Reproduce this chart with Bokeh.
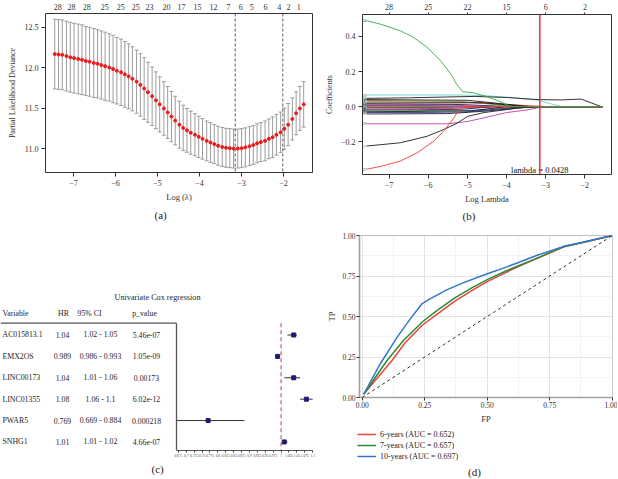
import math
from bokeh.plotting import figure
from bokeh.layouts import row, column
from bokeh.models import (Range1d, LinearAxis, FixedTicker, Whisker, TeeHead,
                          ColumnDataSource, Span, Legend, LegendItem, Title,
                          NumeralTickFormatter, Grid, Slope)
from bokeh.core.properties import value
from bokeh.embed import file_html
from bokeh.resources import INLINE

FONT = "Liberation Serif"
MINUS = "\u2212"

# ---------------- (a) cross-validation curve ----------------
cv_log_lambda = [-7.45, -7.36, -7.27, -7.17, -7.08, -6.99, -6.89, -6.80, -6.71, -6.62,
                 -6.52, -6.43, -6.34, -6.25, -6.15, -6.06, -5.97, -5.87, -5.78, -5.69,
                 -5.60, -5.50, -5.41, -5.32, -5.23, -5.13, -5.04, -4.95, -4.85, -4.76,
                 -4.67, -4.58, -4.48, -4.39, -4.30, -4.21, -4.11, -4.02, -3.93, -3.83,
                 -3.74, -3.65, -3.56, -3.46, -3.37, -3.28, -3.19, -3.09, -3.00, -2.91,
                 -2.81, -2.72, -2.63, -2.54, -2.44, -2.35, -2.26, -2.17, -2.07, -1.98,
                 -1.89, -1.79, -1.70, -1.61, -1.52]
cv_mean = [12.17, 12.165, 12.16, 12.145, 12.13, 12.12, 12.11, 12.10, 12.085, 12.075,
           12.06, 12.05, 12.035, 12.02, 12.005, 11.985, 11.965, 11.945, 11.92, 11.895,
           11.865, 11.83, 11.79, 11.745, 11.70, 11.65, 11.60, 11.55, 11.50, 11.45,
           11.40, 11.35, 11.30, 11.26, 11.23, 11.20, 11.175, 11.15, 11.125, 11.10,
           11.08, 11.06, 11.04, 11.025, 11.015, 11.01, 11.005, 11.005, 11.01, 11.02,
           11.035, 11.05, 11.07, 11.085, 11.10, 11.125, 11.145, 11.175, 11.205, 11.25,
           11.30, 11.37, 11.44, 11.50, 11.55]
cv_se = [0.43, 0.43, 0.43, 0.43, 0.43, 0.43, 0.43, 0.43, 0.425, 0.425,
         0.425, 0.42, 0.42, 0.42, 0.415, 0.415, 0.41, 0.41, 0.405, 0.40,
         0.395, 0.39, 0.385, 0.38, 0.37, 0.36, 0.35, 0.34, 0.33, 0.32,
         0.31, 0.30, 0.29, 0.28, 0.27, 0.265, 0.26, 0.255, 0.25, 0.245,
         0.245, 0.24, 0.24, 0.24, 0.24, 0.24, 0.24, 0.24, 0.24, 0.24,
         0.24, 0.24, 0.24, 0.24, 0.245, 0.245, 0.25, 0.25, 0.25, 0.255,
         0.26, 0.26, 0.265, 0.27, 0.28]
cv_top_pos = [-7.38, -7.05, -6.69, -6.26, -5.88, -5.52, -5.19, -4.79, -4.43, -4.05,
              -3.67, -3.31, -3.02, -2.76, -2.43, -2.10, -1.88, -1.64]
cv_top_nz = ["28", "28", "28", "25", "25", "25", "23", "20", "17", "15",
             "12", "7", "6", "5", "6", "4", "2", "1"]
lambda_min = 0.0428
lambda_1se = 0.133

# ---------------- (b) coefficient paths ----------------
coef_top_pos = [-7, -6, -5, -4, -3, -2]
coef_top_nz = ["28", "25", "22", "15", "6", "2"]
path_first = -7.58
path_last = -1.55

path_green_x = [-7.58, -7.22, -6.71, -6.37, -6.03, -5.69, -5.43, -5.26, -5.12, -4.84, -4.50, -4.16, -3.90, -1.55]
path_green_y = [0.490, 0.470, 0.432, 0.394, 0.338, 0.263, 0.188, 0.122, 0.085, 0.079, 0.056, 0.028, 0.0, 0.0]
path_teal_x = [-7.58, -5.20, -4.50, -3.80, -3.20, -2.60, -1.55]
path_teal_y = [0.066, 0.066, 0.062, 0.050, 0.036, 0.0, 0.0]
path_blacktop_x = [-7.58, -6.50, -5.50, -4.80, -4.00, -3.20, -2.60, -2.10, -1.58, -1.55]
path_blacktop_y = [0.047, 0.050, 0.055, 0.058, 0.052, 0.040, 0.038, 0.043, 0.0, 0.0]
path_magenta_x = [-7.58, -5.52, -5.00, -4.50, -4.00, -3.48, -3.14, -2.95, -1.55]
path_magenta_y = [-0.098, -0.098, -0.085, -0.060, -0.034, -0.019, -0.004, 0.0, 0.0]
path_blacklow_x = [-7.58, -6.71, -6.03, -5.61, -5.26, -5.00, -4.58, -3.73, -3.20, -1.55]
path_blacklow_y = [-0.225, -0.206, -0.169, -0.131, -0.094, -0.056, -0.034, -0.009, 0.0, 0.0]
path_red_x = [-7.58, -7.20, -6.71, -6.28, -5.86, -5.61, -5.35, -5.22, -5.10, -1.55]
path_red_y = [-0.357, -0.340, -0.310, -0.263, -0.197, -0.141, -0.065, -0.019, 0.0, 0.0]
path_blue_x = [-7.58, -6.00, -5.00, -4.50, -4.00, -3.60, -1.55]
path_blue_y = [-0.033, -0.033, -0.030, -0.020, -0.010, 0.0, 0.0]
path_blackmid_x = [-7.58, -5.50, -4.50, -3.80, -3.30, -1.55]
path_blackmid_y = [-0.042, -0.040, -0.025, -0.010, 0.0, 0.0]

bundle_start = [0.035, 0.028, 0.020, 0.015, 0.010, 0.005, 0.002, -0.004, -0.008, -0.012, -0.015, -0.020, -0.025, -0.030, 0.040, -0.018]
bundle_mid = [0.030, 0.024, 0.022, 0.012, 0.008, 0.004, 0.002, -0.003, -0.007, -0.010, -0.012, -0.016, -0.020, -0.024, 0.036, -0.015]
bundle_x_mid = [-5.2, -5.0, -4.6, -5.2, -5.4, -6.0, -6.5, -5.8, -5.3, -5.6, -5.5, -5.2, -4.8, -4.9, -5.0, -6.2]
bundle_x_zero = [-3.7, -3.0, -3.5, -3.9, -4.3, -5.0, -5.6, -4.9, -4.4, -4.7, -4.6, -4.3, -3.5, -4.0, -3.4, -5.3]
bundle_color_idx = [2, 1, 0, 0, 5, 3, 1, 2, 0, 4, 1, 3, 2, 0, 0, 5]
path_var_ids = ["4", "7", "21", "16", "15", "29", "11", "9",
                "2", "8", "13", "5", "18", "3", "25", "12", "6", "22", "10", "14", "19", "1", "27", "24"]

# ---------------- (c) univariate Cox ----------------
cox_vars = ["AC015813.1", "EMX2OS", "LINC00173", "LINC01355", "PWAR5", "SNHG1"]
cox_hr = [1.04, 0.989, 1.04, 1.08, 0.769, 1.01]
cox_lo = [1.02, 0.986, 1.01, 1.06, 0.669, 1.01]
cox_hi = [1.05, 0.993, 1.06, 1.10, 0.884, 1.02]
cox_hr_txt = ["1.04", "0.989", "1.04", "1.08", "0.769", "1.01"]
cox_ci_txt = ["1.02 - 1.05", "0.986 - 0.993", "1.01 - 1.06", "1.06 - 1.1", "0.669 - 0.884", "1.01 - 1.02"]
cox_p_txt = ["5.46e-07", "1.05e-09", "0.00173", "6.02e-12", "0.000218", "4.66e-07"]
forest_ticks = [0.675, 0.7, 0.725, 0.75, 0.775, 0.8, 0.825, 0.85, 0.875, 0.9, 0.925,
                0.95, 0.975, 1.0, 1.025, 1.05, 1.075, 1.1]

# ---------------- (d) ROC ----------------
roc_years = [6, 7, 10]
roc_auc = [0.652, 0.657, 0.697]
roc6_fp = [0.006, 0.12, 0.17, 0.24, 0.30, 0.366, 0.433, 0.50, 0.566, 0.62, 0.686, 0.74, 0.806, 0.886, 1.0]
roc6_tp = [0.02, 0.23, 0.335, 0.446, 0.515, 0.59, 0.655, 0.715, 0.765, 0.805, 0.85, 0.885, 0.93, 0.958, 1.0]
roc7_fp = [0.006, 0.10, 0.166, 0.24, 0.30, 0.366, 0.433, 0.50, 0.566, 0.62, 0.686, 0.74, 0.806, 0.886, 1.0]
roc7_tp = [0.02, 0.23, 0.353, 0.466, 0.538, 0.61, 0.672, 0.728, 0.775, 0.81, 0.851, 0.888, 0.93, 0.958, 1.0]
roc10_fp = [0.006, 0.073, 0.14, 0.193, 0.24, 0.273, 0.34, 0.406, 0.473, 0.54, 0.62, 0.70, 0.806, 0.886, 1.0]
roc10_tp = [0.02, 0.21, 0.373, 0.487, 0.58, 0.61, 0.666, 0.709, 0.748, 0.785, 0.83, 0.878, 0.933, 0.96, 1.0]

# ---------------- helpers ----------------
def signed(t, fmt="{:g}"):
    s = fmt.format(abs(t))
    return MINUS + s if t < 0 else s


def style_axis(ax, label_size="8px", title_size="8.5px", tick_out=4, standoff=3,
               color="#333333", title_standoff=4):
    ax.major_label_text_font = FONT
    ax.major_label_text_font_size = label_size
    ax.major_label_text_color = color
    ax.axis_label_text_font = FONT
    ax.axis_label_text_font_size = title_size
    ax.axis_label_text_font_style = "normal"
    ax.axis_label_text_color = color
    ax.axis_label_standoff = title_standoff
    ax.major_tick_out = tick_out
    ax.major_tick_in = 0
    ax.minor_tick_out = 0
    ax.minor_tick_in = 0
    ax.major_tick_line_color = color
    ax.major_label_standoff = standoff


def sub_title(p, text, offset, standoff):
    p.add_layout(Title(text=text, align="left", offset=offset, standoff=standoff,
                       text_font=FONT, text_font_size="11px", text_font_style="normal",
                       text_color="#222222"), "below")


def make_fig(w, h, xr, yr, left, right, top, bottom, outline="#333333"):
    return figure(width=w, height=h, output_backend="svg", toolbar_location=None,
                  x_range=xr, y_range=yr, x_axis_type=None, y_axis_type=None,
                  min_border_left=left, min_border_right=right,
                  min_border_top=top, min_border_bottom=bottom,
                  outline_line_color=outline, outline_line_width=1, frame_align=False)


C_BLACK = "#1c1c1c"
C_RED = "#f03c32"
C_GREEN = "#3aa945"
C_BLUE = "#26268f"
C_CYAN = "#6fcfcf"
C_MAG = "#c0409f"
PAL = [C_BLACK, C_RED, C_GREEN, C_BLUE, C_CYAN, C_MAG]

# ================= panel (a) =================
pa = make_fig(318, 222, Range1d(-7.67, -1.31), Range1d(10.71, 12.67), 45, 6, 13, 49)
ticks_a = [-7, -6, -5, -4, -3, -2]
xa = LinearAxis(ticker=FixedTicker(ticks=ticks_a), axis_label="Log (\u03bb)", axis_line_color=None)
xa.major_label_overrides = {t: signed(t) for t in ticks_a}
style_axis(xa, title_standoff=3)
pa.add_layout(xa, "below")
ya = LinearAxis(ticker=FixedTicker(ticks=[11.0, 11.5, 12.0, 12.5]),
                formatter=NumeralTickFormatter(format="0.0"),
                axis_label="Partial Likelihood Deviance", axis_line_color=None)
style_axis(ya, title_size="8px", title_standoff=5)
pa.add_layout(ya, "left")
ta = LinearAxis(ticker=FixedTicker(ticks=cv_top_pos), axis_line_color=None,
                major_label_overrides=dict(zip(cv_top_pos, cv_top_nz)))
style_axis(ta, tick_out=0, standoff=4)
ta.major_tick_line_color = None
pa.add_layout(ta, "above")

src_a = ColumnDataSource(dict(x=cv_log_lambda, y=cv_mean,
                              upper=[m + s for m, s in zip(cv_mean, cv_se)],
                              lower=[m - s for m, s in zip(cv_mean, cv_se)]))
ERR = "#9c9c9c"
pa.add_layout(Whisker(source=src_a, base="x", upper="upper", lower="lower",
                      line_color=ERR, line_width=1,
                      upper_head=TeeHead(size=4, line_color=ERR, line_width=1),
                      lower_head=TeeHead(size=4, line_color=ERR, line_width=1)))
pa.scatter("x", "y", source=src_a, size=3.0, color="#f01818", marker="circle")
for lam in (lambda_min, lambda_1se):
    pa.add_layout(Span(location=math.log(lam), dimension="height", line_color="#333333",
                       line_dash="3 2", line_width=0.8))
sub_title(pa, "(a)", 109, 4)

# ================= panel (b) =================
pb = make_fig(299, 222, Range1d(-7.68, -1.32), Range1d(-0.387, 0.525), 44, 6, 14, 47)
xb = LinearAxis(ticker=FixedTicker(ticks=ticks_a), axis_label="Log Lambda", axis_line_color=None)
xb.major_label_overrides = {t: signed(t) for t in ticks_a}
style_axis(xb, title_standoff=3)
pb.add_layout(xb, "below")
ticks_b = [-0.2, 0.0, 0.2, 0.4]
yb = LinearAxis(ticker=FixedTicker(ticks=ticks_b), axis_label="Coefficients", axis_line_color=None)
yb.major_label_overrides = {t: signed(t, "{:.1f}") for t in ticks_b}
style_axis(yb, title_size="8px", title_standoff=4)
pb.add_layout(yb, "left")
tb = LinearAxis(ticker=FixedTicker(ticks=coef_top_pos), axis_line_color=None,
                major_label_overrides=dict(zip(coef_top_pos, coef_top_nz)))
style_axis(tb, tick_out=2, standoff=3)
pb.add_layout(tb, "above")

start_vals = []
for s, m, xm, xz, ci in zip(bundle_start, bundle_mid, bundle_x_mid, bundle_x_zero, bundle_color_idx):
    pb.line([path_first, xm, xz, path_last], [s, m, 0.0, 0.0], line_color=PAL[ci], line_width=0.9)
    start_vals.append(s)
major_paths = [(path_blackmid_x, path_blackmid_y, C_BLACK), (path_blue_x, path_blue_y, C_BLUE),
               (path_teal_x, path_teal_y, C_CYAN), (path_blacktop_x, path_blacktop_y, C_BLACK),
               (path_magenta_x, path_magenta_y, C_MAG), (path_blacklow_x, path_blacklow_y, C_BLACK),
               (path_red_x, path_red_y, C_RED), (path_green_x, path_green_y, C_GREEN)]
for xs, ys, c in major_paths:
    pb.line(xs, ys, line_color=c, line_width=0.9)
    start_vals.append(ys[0])
pb.text(x=[path_first - 0.05] * len(start_vals), y=start_vals, text=path_var_ids[:len(start_vals)],
        text_font=value(FONT), text_font_size="3.5px", text_color="#333333",
        text_align="center", text_baseline="middle")
log_lmin = math.log(lambda_min)
pb.add_layout(Span(location=log_lmin, dimension="height", line_color="#ee2020", line_width=1.4))
pb.text(x=[log_lmin], y=[-0.36], text=[f"lambda = {lambda_min}"], text_font=value(FONT),
        text_font_size="8.5px", text_color="#111111", text_align="center", text_baseline="middle")
sub_title(pb, "(b)", 100, 2)

# ================= panel (c) =================
pc = make_fig(323, 256, Range1d(0, 313), Range1d(5.40, -2.22), 0, 10, 65, 28, outline=None)
hr_lo = min(cox_lo)
px_per_hr = 316.0
pc.extra_x_ranges = {"hr": Range1d(hr_lo - 176 / px_per_hr, hr_lo + 137 / px_per_hr)}
rows = list(range(len(cox_vars)))
TXT = "#1e1e1e"
tfs = "7.8px"
pc.text(x=[157], y=[-1.76], text=["Univariate Cox regression"], text_font=value(FONT),
        text_font_size="8.2px", text_color=TXT, text_align="center", text_baseline="middle")
pc.text(x=[2], y=[-1.02], text=["Variable"], text_font=value(FONT), text_font_size=tfs,
        text_color=TXT, text_align="left", text_baseline="middle")
pc.text(x=[63, 89, 144], y=[-1.02] * 3, text=["HR", "95% CI", "p_value"], text_font=value(FONT),
        text_font_size=tfs, text_color=TXT, text_align="center", text_baseline="middle")
pc.text(x=[2] * len(rows), y=rows, text=cox_vars, text_font=value(FONT), text_font_size=tfs,
        text_color=TXT, text_align="left", text_baseline="middle")
pc.text(x=[62] * len(rows), y=rows, text=cox_hr_txt, text_font=value(FONT), text_font_size=tfs,
        text_color=TXT, text_align="center", text_baseline="middle")
pc.text(x=[100] * len(rows), y=rows, text=cox_ci_txt, text_font=value(FONT), text_font_size=tfs,
        text_color=TXT, text_align="center", text_baseline="middle")
pc.text(x=[146] * len(rows), y=rows, text=cox_p_txt, text_font=value(FONT), text_font_size=tfs,
        text_color=TXT, text_align="center", text_baseline="middle")
pc.segment(x0=[0], x1=[176], y0=[-0.55], y1=[-0.55], line_color="#555555", line_width=1.2)
pc.segment(x0=[hr_lo], x1=[hr_lo], y0=[-0.55], y1=[5.40], line_color="#555555", line_width=1.3,
           x_range_name="hr")
pc.segment(x0=[1.0], x1=[1.0], y0=[-0.55], y1=[5.40], line_color="#e8504f", line_width=1.2,
           line_dash="4 3", x_range_name="hr")
pc.segment(x0=cox_lo, x1=cox_hi, y0=rows, y1=rows, line_color="#333333", line_width=1,
           x_range_name="hr")
pc.scatter(cox_hr, rows, marker="square", size=4, color="#1b1b6b", x_range_name="hr")
xc = LinearAxis(x_range_name="hr", ticker=FixedTicker(ticks=forest_ticks), bounds=(hr_lo, 1.1),
                axis_line_color="#555555", axis_line_width=1)
xc.major_label_overrides = {t: f"{t:g}" for t in forest_ticks}
style_axis(xc, label_size="3.5px", tick_out=2, standoff=1, color="#444444")
pc.add_layout(xc, "below")
sub_title(pc, "(c)", 151, 3)

# ================= panel (d) =================
pdd = make_fig(294, 205, Range1d(-0.0108, 1.001), Range1d(0.0, 1.0), 36, 5, 13, 30,
               outline="#bdbdbd")
roc_ticks = [0.0, 0.25, 0.5, 0.75, 1.0]
roc_minor = [0.125, 0.375, 0.625, 0.875]
xd = LinearAxis(ticker=FixedTicker(ticks=roc_ticks, minor_ticks=roc_minor),
                formatter=NumeralTickFormatter(format="0.00"), axis_label="FP",
                axis_line_color="#a0a0a0", axis_line_width=1.6)
style_axis(xd, label_size="7.5px", title_size="8.5px", tick_out=3, standoff=1, color="#333333",
           title_standoff=3)
pdd.add_layout(xd, "below")
yd = LinearAxis(ticker=FixedTicker(ticks=roc_ticks, minor_ticks=roc_minor),
                formatter=NumeralTickFormatter(format="0.00"), axis_label="TP",
                axis_line_color="#a0a0a0", axis_line_width=1.6)
style_axis(yd, label_size="7.5px", title_size="8.5px", tick_out=3, standoff=1, color="#333333",
           title_standoff=2)
pdd.add_layout(yd, "left")
for dim, ax in ((0, xd), (1, yd)):
    g = Grid(dimension=dim, ticker=ax.ticker, grid_line_color="#dcdcdc", grid_line_width=0.8,
             minor_grid_line_color="#eeeeee", minor_grid_line_width=0.7)
    pdd.add_layout(g, "center")
pdd.add_layout(Slope(gradient=1, y_intercept=0, line_color="#333333", line_dash="3 3", line_width=1))
roc_colors = ["#e8453c", "#2b8a35", "#3377cc"]
roc_curves = [(roc6_fp, roc6_tp), (roc7_fp, roc7_tp), (roc10_fp, roc10_tp)]
for (fp, tp), c in zip(roc_curves, roc_colors):
    pdd.line(fp, tp, line_color=c, line_width=1.5)

# legend + panel letter for (d), drawn in a strip under the ROC plot
pleg = make_fig(294, 51, Range1d(0, 294), Range1d(0, 51), 0, 0, 0, 0, outline=None)
items = []
for c, yr, auc in zip(roc_colors, roc_years, roc_auc):
    # off-screen stand-in renderer so the legend swatch gets this line style
    r = pleg.line(x=[-50, -40], y=[-50, -40], line_color=c, line_width=1.5)
    items.append(LegendItem(label=value(f"{yr}-years (AUC = {auc:.3f})"), renderers=[r]))
leg = Legend(items=items, location=(34, 17), padding=2, margin=0, spacing=1,
             label_height=10, glyph_height=10, glyph_width=19, label_standoff=4,
             label_text_font=FONT, label_text_font_size="8px", label_text_color="#222222",
             border_line_color=None, background_fill_alpha=0)
pleg.add_layout(leg)
pleg.text(x=[151], y=[6.5], text=["(d)"], text_font=value(FONT), text_font_size="11px",
          text_color="#222222", text_align="center", text_baseline="middle")

layout = column(row(pa, pb), row(pc, column(pdd, pleg)))
open("out.html", "w").write(file_html(layout, INLINE))
